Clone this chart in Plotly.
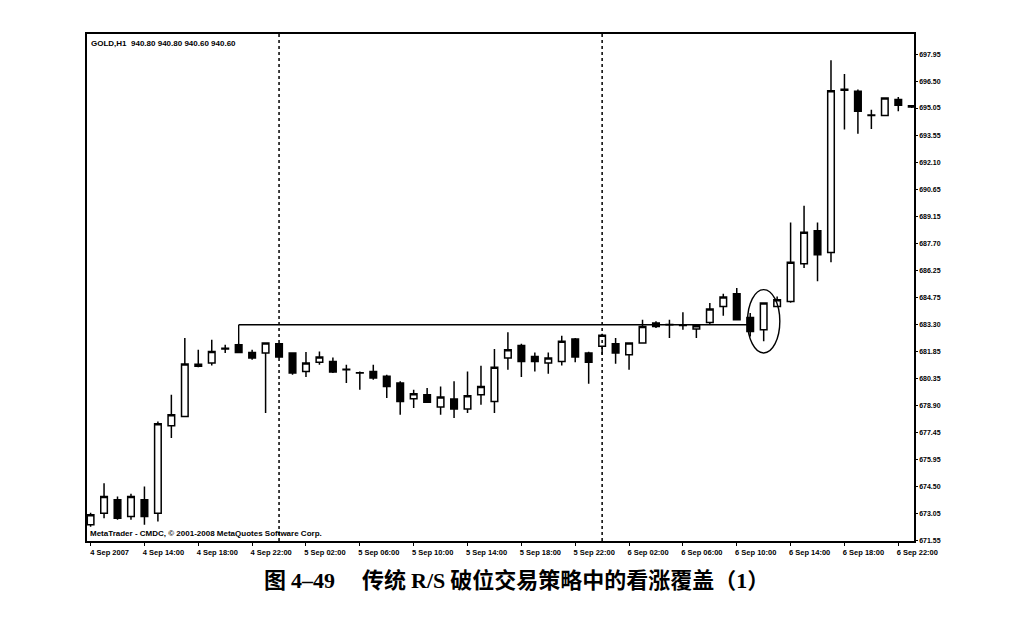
import pandas as pd
import plotly.graph_objects as go

# ---- data (GOLD, H1, 4 Sep 2007 10:00 .. 6 Sep 2007 23:00) ----
bar_times = pd.date_range("2007-09-04 10:00", periods=62, freq="h")

opens = [672.42, 673.05, 673.78, 672.87, 673.78, 673.05, 677.80, 678.30, 681.14, 681.20,
         681.96, 682.20, 681.78, 681.75, 682.25, 681.75, 680.75, 681.24, 681.29, 680.86,
         680.66, 680.75, 680.48, 680.12, 679.26, 679.48, 678.81, 679.25, 678.71, 679.48,
         679.12, 681.48, 682.16, 681.56, 681.20, 681.29, 682.51, 681.75, 682.11, 682.25,
         681.65, 682.29, 683.38, 683.29, 683.27, 683.05, 683.41, 684.28, 684.97, 683.68,
         683.01, 684.28, 684.55, 686.60, 688.39, 687.21, 696.02, 695.96, 694.67, 694.65,
         695.51, 695.10]
highs = [673.07, 674.68, 673.96, 674.10, 674.50, 678.03, 679.48, 682.56, 681.93, 682.47,
         682.20, 682.29, 681.93, 682.32, 682.29, 681.78, 681.80, 681.83, 681.51, 681.11,
         680.75, 681.11, 680.57, 680.21, 679.75, 679.85, 679.93, 680.21, 680.75, 681.06,
         681.96, 682.87, 682.25, 681.78, 681.78, 682.69, 682.56, 681.82, 682.80, 682.56,
         682.32, 683.56, 683.47, 683.56, 683.96, 683.25, 684.46, 684.97, 685.28, 683.92,
         684.50, 684.82, 688.84, 689.75, 688.84, 697.64, 696.90, 696.05, 694.96, 695.62,
         695.65, 695.22]
lows = [672.31, 672.78, 672.69, 672.69, 672.42, 672.60, 677.13, 678.29, 680.97, 681.07,
        681.75, 681.75, 681.38, 678.49, 681.48, 680.57, 680.44, 681.11, 680.66, 680.12,
        679.75, 680.30, 679.30, 678.40, 678.76, 679.05, 678.40, 678.22, 678.49, 678.94,
        678.49, 680.84, 680.44, 680.75, 680.62, 681.07, 681.24, 680.08, 681.65, 681.17,
        680.84, 682.25, 683.10, 682.56, 683.01, 682.56, 683.29, 683.77, 683.53, 682.65,
        682.38, 684.26, 684.48, 686.36, 685.64, 686.67, 693.88, 693.66, 693.91, 694.63,
        694.87, 695.05]
closes = [672.96, 673.96, 672.78, 673.96, 672.87, 677.91, 678.40, 681.15, 681.03, 681.83,
          682.00, 681.78, 681.48, 682.29, 681.53, 680.66, 681.20, 681.53, 680.72, 680.84,
          680.68, 680.39, 679.93, 679.12, 679.53, 679.08, 679.36, 678.71, 679.43, 679.93,
          680.97, 681.93, 681.29, 681.29, 681.48, 682.38, 681.53, 681.24, 682.71, 681.75,
          682.29, 683.19, 683.19, 683.28, 683.24, 683.23, 684.14, 684.79, 683.56, 682.92,
          684.46, 684.64, 686.67, 688.30, 687.09, 695.99, 696.07, 694.87, 694.65, 695.60,
          695.20, 695.18]

price_ticks = [671.55, 673.05, 674.50, 675.95, 677.45, 678.90, 680.35, 681.85, 683.30, 684.75,
               686.25, 687.70, 689.15, 690.65, 692.10, 693.55, 695.05, 696.50, 697.95]
price_tick_labels = ["671.55", "673.05", "674.50", "675.95", "677.45", "678.90", "680.35",
                     "681.85", "683.30", "684.75", "686.25", "687.70", "689.15", "690.65",
                     "692.10", "693.55", "695.05", "696.50", "697.95"]

time_ticks = ["2007-09-04 10:00", "2007-09-04 14:00", "2007-09-04 18:00", "2007-09-04 22:00",
              "2007-09-05 02:00", "2007-09-05 06:00", "2007-09-05 10:00", "2007-09-05 14:00",
              "2007-09-05 18:00", "2007-09-05 22:00", "2007-09-06 02:00", "2007-09-06 06:00",
              "2007-09-06 10:00", "2007-09-06 14:00", "2007-09-06 18:00", "2007-09-06 22:00"]
time_tick_labels = ["4 Sep 2007", "4 Sep 14:00", "4 Sep 18:00", "4 Sep 22:00",
                    "5 Sep 02:00", "5 Sep 06:00", "5 Sep 10:00", "5 Sep 14:00",
                    "5 Sep 18:00", "5 Sep 22:00", "6 Sep 02:00", "6 Sep 06:00",
                    "6 Sep 10:00", "6 Sep 14:00", "6 Sep 18:00", "6 Sep 22:00"]

day_separators = ["2007-09-05 00:00", "2007-09-06 00:00"]
resistance_level = 683.28
resistance_start_bar = 11
resistance_end_bar = 49
ellipse_x = ["2007-09-06 10:48", "2007-09-06 13:12"]
ellipse_y = [681.75, 685.19]

header_text = "GOLD,H1  940.80 940.80 940.60 940.60"
copyright_text = "MetaTrader - CMDC, © 2001-2008 MetaQuotes Software Corp."
caption_html = ("图 <span style='font-family:Liberation Serif'>4–49</span>\u3000 传统 "
                "<span style='font-family:Liberation Serif'>R/S</span> 破位交易策略中的看涨覆盖（"
                "<span style='font-family:Liberation Serif'>1</span>）")

# ---- figure ----
fig = go.Figure()
fig.add_trace(go.Candlestick(
    x=bar_times, open=opens, high=highs, low=lows, close=closes,
    increasing=dict(line=dict(color="black", width=1.5), fillcolor="white"),
    decreasing=dict(line=dict(color="black", width=1.5), fillcolor="black"),
    whiskerwidth=0, showlegend=False, hoverinfo="skip",
))

shapes = []
for d in day_separators:
    shapes.append(dict(type="line", xref="x", yref="paper", x0=d, x1=d, y0=0, y1=1,
                       line=dict(color="black", width=1.5, dash="dot")))
shapes.append(dict(type="line", xref="x", yref="y",
                   x0=bar_times[resistance_start_bar], x1=bar_times[resistance_start_bar],
                   y0=highs[resistance_start_bar], y1=resistance_level,
                   line=dict(color="black", width=1.4)))
shapes.append(dict(type="line", xref="x", yref="y",
                   x0=bar_times[resistance_start_bar], x1=bar_times[resistance_end_bar],
                   y0=resistance_level, y1=resistance_level,
                   line=dict(color="black", width=1.4)))
shapes.append(dict(type="circle", xref="x", yref="y",
                   x0=ellipse_x[0], x1=ellipse_x[1], y0=ellipse_y[0], y1=ellipse_y[1],
                   line=dict(color="black", width=1.4)))

x_tick_font = dict(family="Liberation Sans", size=7.5, color="black", weight="bold")
y_tick_font = dict(family="Liberation Sans", size=7, color="black", weight="bold")

fig.update_layout(
    width=1009, height=603,
    margin=dict(l=79.3, r=102.7, t=26.3, b=70.3, pad=0),
    paper_bgcolor="white", plot_bgcolor="white",
    shapes=shapes,
    showlegend=False,
    xaxis=dict(
        type="date",
        range=["2007-09-04 09:44", "2007-09-06 23:10"],
        rangeslider=dict(visible=False),
        tickmode="array", tickvals=time_ticks, ticktext=time_tick_labels,
        ticks="outside", ticklen=3, tickcolor="black", tickwidth=1.2,
        tickfont=x_tick_font, ticklabelshift=19,
        showgrid=False, zeroline=False,
        showline=True, linecolor="black", linewidth=1.6, mirror=True,
    ),
    yaxis=dict(
        side="right",
        range=[671.54, 699.07],
        tickmode="array", tickvals=price_ticks, ticktext=price_tick_labels,
        ticks="outside", ticklen=2, tickcolor="black", tickwidth=1.2,
        tickfont=y_tick_font,
        showgrid=False, zeroline=False,
        showline=True, linecolor="black", linewidth=1.6, mirror=True,
    ),
    annotations=[
        dict(text=header_text, xref="paper", yref="paper", x=0, y=1, xanchor="left",
             yanchor="top", xshift=2, yshift=-3, showarrow=False,
             font=dict(family="Liberation Sans", size=8, color="black", weight="bold")),
        dict(text=copyright_text, xref="paper", yref="paper", x=0, y=0, xanchor="left",
             yanchor="bottom", xshift=1, yshift=1, showarrow=False,
             font=dict(family="Liberation Sans", size=8, color="black", weight="bold")),
        dict(text=caption_html, xref="paper", yref="paper", x=0.5195, y=0, xanchor="center",
             yanchor="middle", yshift=-37, showarrow=False,
             font=dict(family="Noto Sans CJK SC", size=22, color="black", weight="bold")),
    ],
)

fig.write_html("out.html")
